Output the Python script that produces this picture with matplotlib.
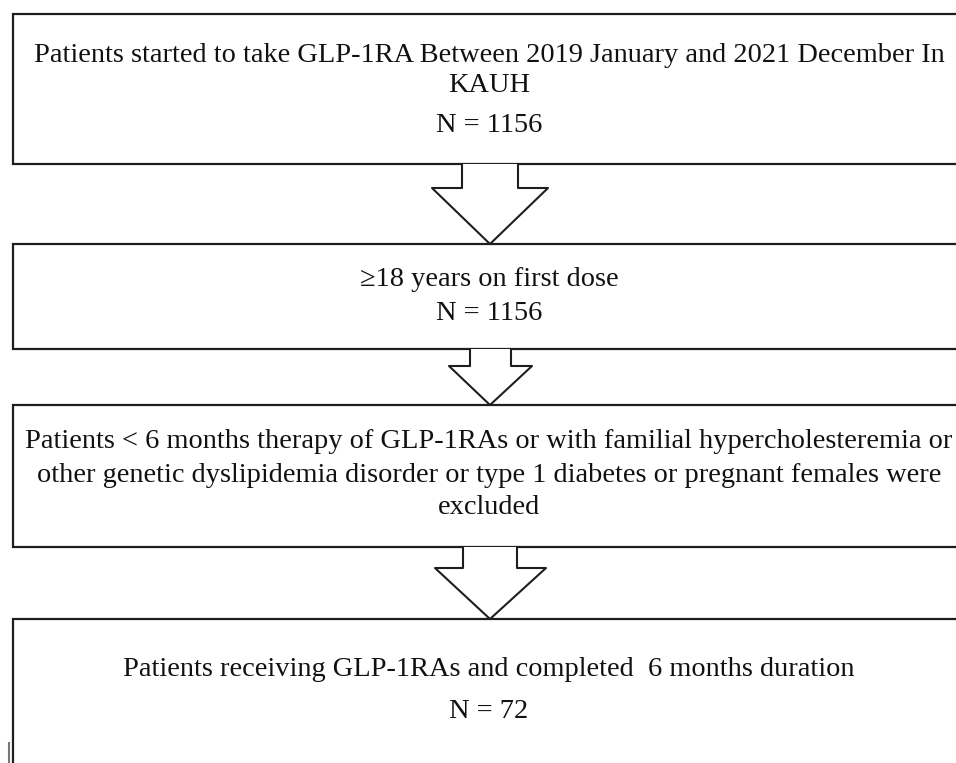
import matplotlib
matplotlib.use("Agg")
import matplotlib.pyplot as plt
from matplotlib.patches import Rectangle, Polygon

# ========== DATA ==========
box_lines = [
    ["Patients started to take GLP-1RA Between 2019 January and 2021 December In",
     "KAUH", "N = 1156"],
    ["\u226518 years on first dose", "N = 1156"],
    ["Patients < 6 months therapy of GLP-1RAs or with familial hypercholesteremia or",
     "other genetic dyslipidemia disorder or type 1 diabetes or pregnant females were",
     "excluded"],
    ["Patients receiving GLP-1RAs and completed  6 months duration", "N = 72"],
]
# box top / bottom in pixels
box_top = [14, 244, 405, 619]
box_bottom = [164, 349, 547, 800]
# text line centres in pixels
line_y = [[55, 86, 125], [280, 314], [442, 476, 508], [669, 712]]

# arrows: stem left, stem right, head left, head right, head y
arrows = [
    (462, 518, 432, 548, 188),
    (470, 511, 449, 532, 366),
    (463, 517, 435, 546, 568),
]

W, H = 956, 763
LEFT, RIGHT = 13, 975
EDGE = "#1e1e1e"

fig = plt.figure(figsize=(W / 100, H / 100), dpi=100)
ax = fig.add_axes([0, 0, 1, 1])
ax.set_xlim(0, W)
ax.set_ylim(H, 0)
ax.axis("off")

# ========== BOXES ==========
for i, lines in enumerate(box_lines):
    ax.add_patch(Rectangle((LEFT, box_top[i]), RIGHT - LEFT,
                           box_bottom[i] - box_top[i],
                           facecolor="white", edgecolor=EDGE, lw=1.6, zorder=1))
    for txt, y in zip(lines, line_y[i]):
        ax.text(489, y, txt, ha="center", va="center", fontsize=20.4,
                family="Liberation Serif", color="#111111", zorder=3)

# ========== ARROWS ==========
for i, (sl, sr, hl, hr, hy) in enumerate(arrows):
    top = box_bottom[i]
    tip = box_top[i + 1]
    pts = [(sl, top), (sl, hy), (hl, hy), (490, tip), (hr, hy), (sr, hy), (sr, top)]
    ax.add_patch(Polygon(pts, closed=True, facecolor="white",
                         edgecolor="none", zorder=2))
    ax.plot([p[0] for p in pts], [p[1] for p in pts], color=EDGE, lw=1.5, zorder=2)

# small stray mark at bottom left
ax.plot([9.5, 9.5], [743, 763], color="#777777", lw=1.5)

fig.savefig("out.png", dpi=100)
